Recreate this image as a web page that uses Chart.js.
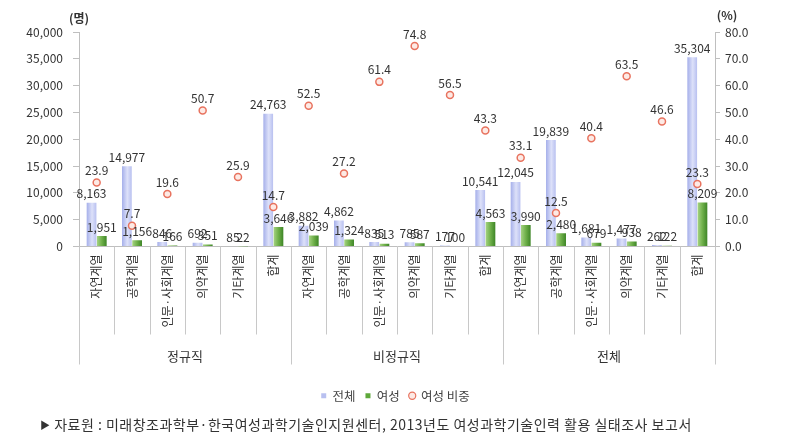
<!DOCTYPE html>
<html>
<head>
<meta charset="utf-8">
<script src="https://cdn.jsdelivr.net/npm/chart.js@4.4.0/dist/chart.umd.min.js"></script>
<style>
  html, body { margin: 0; padding: 0; background: #fff; }
  #wrap { position: relative; width: 791px; height: 446px; }
  #footer { position: absolute; left: 40px; top: 414px; font: 14px "Noto Sans CJK KR", sans-serif; line-height: 20px; letter-spacing: 0.5px; color: #333; white-space: nowrap; }
  #footer .tri { font-size: 10px; vertical-align: 1px; }
</style>
</head>
<body>
<div id="wrap">
  <canvas id="c" width="791" height="446"></canvas>
  <div id="footer"><span class="tri">▶</span> 자료원 : 미래창조과학부·한국여성과학기술인지원센터, 2013년도 여성과학기술인력 활용 실태조사 보고서</div>
</div>
<script>
// ---- data ----
const categories = ['자연계열', '공학계열', '인문·사회계열', '의약계열', '기타계열', '합계'];
const groups = ['정규직', '비정규직', '전체'];
const totalRegular = [8163, 14977, 846, 692, 85, 24763];
const womenRegular = [1951, 1156, 166, 351, 22, 3646];
const ratioRegular = [23.9, 7.7, 19.6, 50.7, 25.9, 14.7];
const totalIrregular = [3882, 4862, 835, 785, 177, 10541];
const womenIrregular = [2039, 1324, 513, 587, 100, 4563];
const ratioIrregular = [52.5, 27.2, 61.4, 74.8, 56.5, 43.3];
const totalAll = [12045, 19839, 1681, 1477, 262, 35304];
const womenAll = [3990, 2480, 679, 938, 122, 8209];
const ratioAll = [33.1, 12.5, 40.4, 63.5, 46.6, 23.3];
const seriesNames = ['전체', '여성', '여성 비중'];
const leftTicks = [0, 5000, 10000, 15000, 20000, 25000, 30000, 35000, 40000];
const rightTicks = [0, 10, 20, 30, 40, 50, 60, 70, 80];

const labels = [].concat(categories, categories, categories);
const totals = [].concat(totalRegular, totalIrregular, totalAll);
const women = [].concat(womenRegular, womenIrregular, womenAll);
const ratios = [].concat(ratioRegular, ratioIrregular, ratioAll);

const FONT = '"Noto Sans CJK KR", sans-serif';

function barGrad(stops, fallback) {
  return (ctx) => {
    const meta = ctx.chart.getDatasetMeta(ctx.datasetIndex);
    const el = meta && meta.data[ctx.dataIndex];
    if (!el || !el.width || !isFinite(el.x)) return fallback;
    const g = ctx.chart.ctx.createLinearGradient(el.x - el.width / 2, 0, el.x + el.width / 2, 0);
    stops.forEach((s) => g.addColorStop(s[0], s[1]));
    return g;
  };
}

const valueLabels = {
  id: 'valueLabels',
  afterDatasetsDraw(chart) {
    const ctx = chart.ctx;
    ctx.save();
    ctx.font = '12px ' + FONT;
    ctx.fillStyle = '#333';
    ctx.textAlign = 'center';
    ctx.textBaseline = 'bottom';
    chart.data.datasets.forEach((ds, di) => {
      const meta = chart.getDatasetMeta(di);
      meta.data.forEach((el, i) => {
        const v = ds.data[i];
        const txt = di === 2 ? v.toFixed(1) : v.toLocaleString('en-US');
        ctx.fillText(txt, el.x, el.y - (di === 2 ? 6 : 3));
      });
    });
    ctx.restore();
  }
};

const axisDecor = {
  id: 'axisDecor',
  afterDraw(chart) {
    const ctx = chart.ctx;
    const xs = chart.scales.x;
    const area = chart.chartArea;
    const n = labels.length;
    const step = xs.getPixelForValue(1) - xs.getPixelForValue(0);
    ctx.save();
    ctx.strokeStyle = '#c8c8c8';
    ctx.lineWidth = 1;
    for (let i = 0; i <= n; i++) {
      const x = Math.round(xs.getPixelForValue(0) - step / 2 + i * step) + 0.5;
      const long = i % categories.length === 0;
      ctx.beginPath();
      ctx.moveTo(x, area.bottom);
      ctx.lineTo(x, area.bottom + (long ? 118 : 88));
      ctx.stroke();
    }
    ctx.font = '13px ' + FONT;
    ctx.fillStyle = '#333';
    ctx.textAlign = 'center';
    ctx.textBaseline = 'middle';
    groups.forEach((g, gi) => {
      const c = xs.getPixelForValue(gi * categories.length) - step / 2 + step * categories.length / 2;
      ctx.fillText(g, c, area.bottom + 110);
    });
    ctx.font = 'bold 12px ' + FONT;
    ctx.fillStyle = '#333';
    ctx.fillText('(명)', chart.scales.y.right, 18);
    ctx.fillText('(%)', chart.scales.y1.left + 12, 15);
    ctx.restore();
  }
};

const chart = new Chart(document.getElementById('c'), {
  data: {
    labels: labels,
    datasets: [
      {
        type: 'bar', label: seriesNames[0], data: totals, yAxisID: 'y', order: 2,
        backgroundColor: barGrad([[0, '#a5afea'], [0.55, '#dde1f9'], [1, '#b8c0f0']], '#b8c0f0'),
        categoryPercentage: 0.58, barPercentage: 0.95
      },
      {
        type: 'bar', label: seriesNames[1], data: women, yAxisID: 'y', order: 2,
        backgroundColor: barGrad([[0, '#a6d383'], [0.5, '#6fb04a'], [1, '#3d8526']], '#5ea83a'),
        categoryPercentage: 0.58, barPercentage: 0.95
      },
      {
        type: 'line', label: seriesNames[2], data: ratios, yAxisID: 'y1', order: 1,
        showLine: false, pointStyle: 'circle', pointRadius: 3.5, pointHoverRadius: 3.5,
        pointBorderWidth: 1.5, pointBorderColor: '#e8735f', pointBackgroundColor: '#fdeae5',
        borderColor: '#e8735f', backgroundColor: '#fdeae5'
      }
    ]
  },
  options: {
    responsive: false,
    animation: false,
    layout: { padding: { top: 32, bottom: 34, left: 0, right: 0 } },
    plugins: {
      tooltip: { enabled: false },
      legend: {
        position: 'bottom',
        labels: {
          font: { size: 12.5, family: FONT }, color: '#444', padding: 10,
          usePointStyle: true, boxWidth: 5, boxHeight: 5,
          generateLabels: () => [
            { text: seriesNames[0], fillStyle: '#b8c0f0', strokeStyle: '#b8c0f0', lineWidth: 0, pointStyle: 'rect', datasetIndex: 0, fontColor: '#444' },
            { text: seriesNames[1], fillStyle: '#5ea83a', strokeStyle: '#5ea83a', lineWidth: 0, pointStyle: 'rect', datasetIndex: 1, fontColor: '#444' },
            { text: seriesNames[2], fillStyle: '#fdeae5', strokeStyle: '#e8735f', lineWidth: 1.2, pointStyle: 'circle', datasetIndex: 2, fontColor: '#444' }
          ]
        }
      }
    },
    scales: {
      x: {
        type: 'category',
        offset: true,
        grid: { display: false, drawTicks: false },
        border: { display: true, color: '#bfbfbf' },
        ticks: {
          autoSkip: false, minRotation: 90, maxRotation: 90, padding: 8,
          font: { size: 12, family: FONT }, color: '#333'
        },
        afterFit: (s) => { s.height = 133; }
      },
      y: {
        position: 'left', min: 0, max: 40000,
        afterBuildTicks: (s) => { s.ticks = leftTicks.map((v) => ({ value: v })); },
        grid: { drawOnChartArea: false, drawTicks: true, tickLength: 6, color: '#bfbfbf' },
        border: { display: true, color: '#bfbfbf' },
        ticks: {
          padding: 10, font: { size: 12, family: FONT }, color: '#333',
          callback: (v) => v.toLocaleString('en-US')
        },
        afterFit: (s) => { s.width = 79; }
      },
      y1: {
        position: 'right', min: 0, max: 80,
        afterBuildTicks: (s) => { s.ticks = rightTicks.map((v) => ({ value: v })); },
        grid: { drawOnChartArea: false, drawTicks: true, tickLength: 5, color: '#bfbfbf' },
        border: { display: true, color: '#bfbfbf' },
        ticks: {
          padding: 5, font: { size: 12, family: FONT }, color: '#333',
          callback: (v) => v.toFixed(1)
        },
        afterFit: (s) => { s.width = 76; }
      }
    }
  },
  plugins: [valueLabels, axisDecor]
});
chart.update('none');
</script>
</body>
</html>
